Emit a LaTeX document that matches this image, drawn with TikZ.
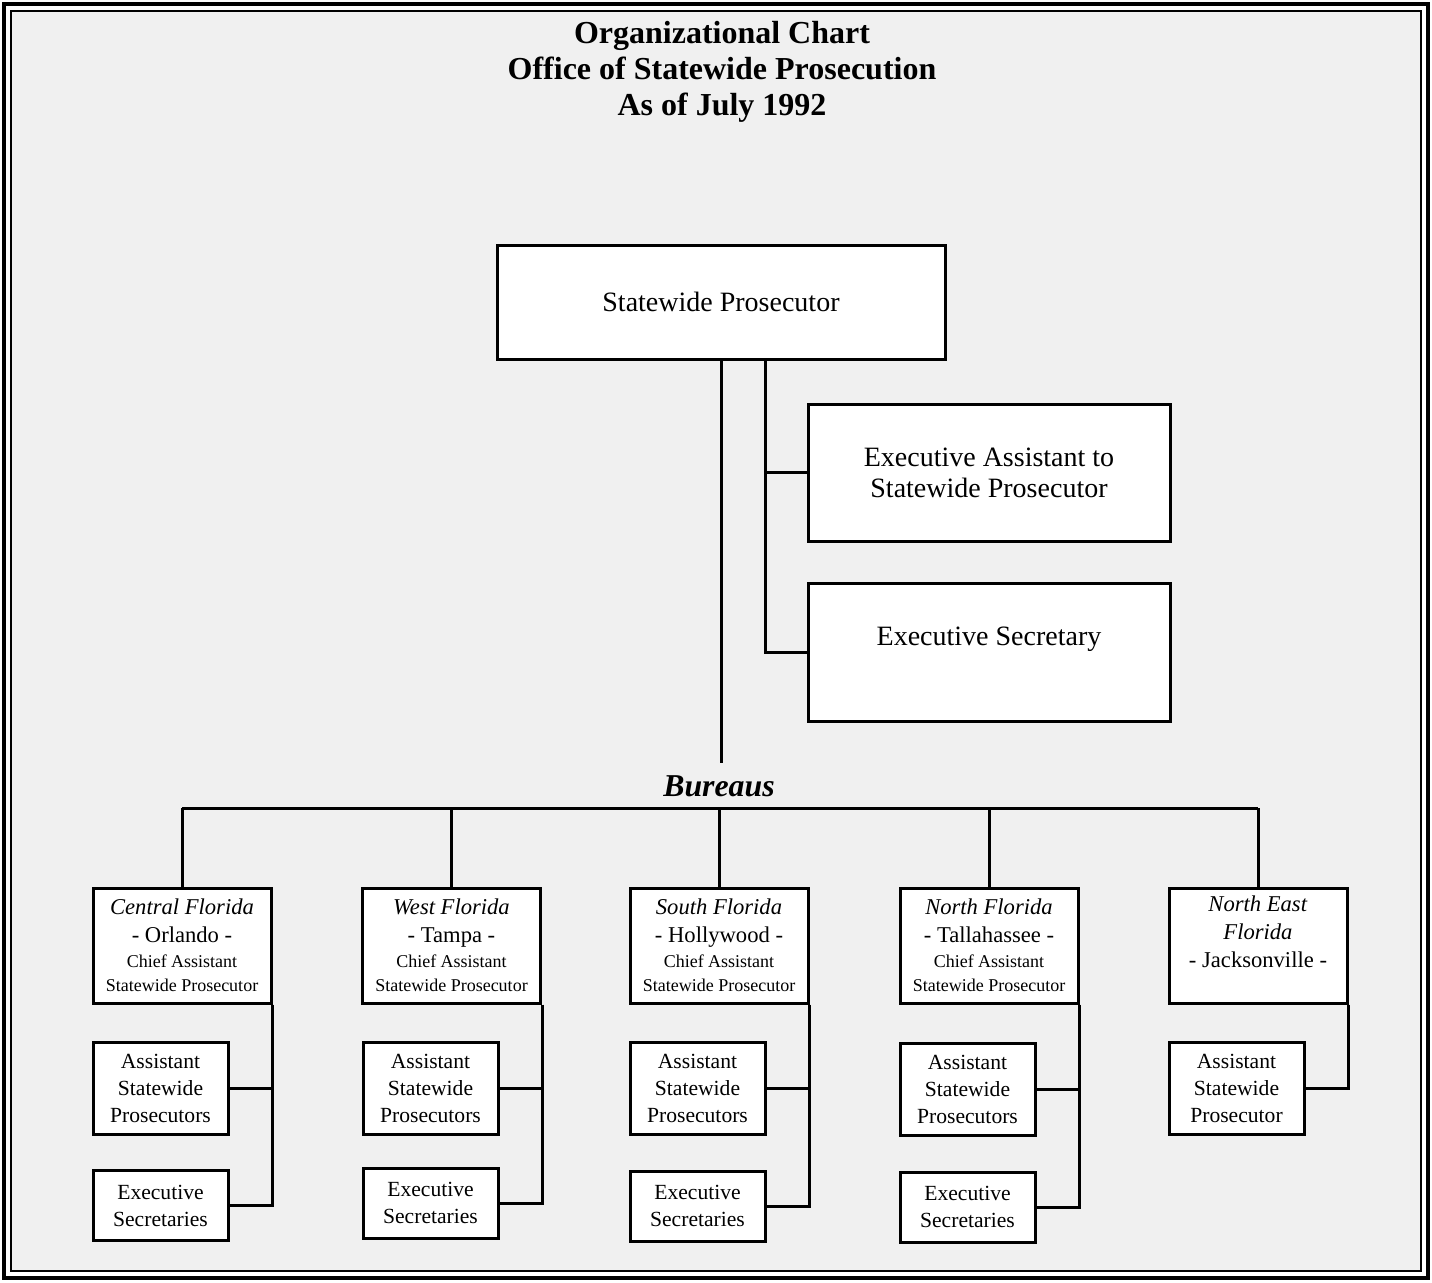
\documentclass[tikz,border=0pt]{standalone}
\usepackage{fontspec}
\setmainfont{Liberation Serif}
\newcommand{\chieftxt}{{\fontsize{9}{11}\selectfont Chief Assistant}\\[-2pt]{\fontsize{9}{11}\selectfont Statewide Prosecutor}}
\tikzset{
  box/.style={draw, line width=1.5pt, fill=white, align=center, inner sep=0pt},
  topbox/.style={box, font=\fontsize{14}{15.5}\selectfont},
  bureau/.style={box, minimum width=89pt, minimum height=57.5pt, font=\fontsize{11.3}{14}\selectfont},
  staff/.style={box, minimum width=67.5pt, minimum height=46pt, font=\fontsize{10.8}{13.5}\selectfont},
  secs/.style={box, minimum width=67.5pt, minimum height=35pt, font=\fontsize{10.8}{13.5}\selectfont},
  link/.style={line width=1.5pt}
}
\begin{document}
\begin{tikzpicture}[x=0.5pt, y=-0.5pt, line join=miter]
  \useasboundingbox (0,0) rectangle (1432,1282);
  % frame and shaded ground
  \draw[line width=2pt] (4,4) rectangle (1428,1278);
  \draw[line width=1pt, fill=gray!12] (11,11) rectangle (1421,1271);

  \node[font=\bfseries\fontsize{16}{18}\selectfont, align=center] (title) at (722,72)
    {Organizational Chart\\Office of Statewide Prosecution\\As of July 1992};

  % top of the office
  \node[topbox, minimum width=224pt, minimum height=57pt] (sp) at (721,302) {Statewide Prosecutor};
  \node[topbox, minimum width=181pt, minimum height=68.5pt] (ea) at (989,472.5)
    {Executive Assistant to\\Statewide Prosecutor};
  \node[topbox, minimum width=181pt, minimum height=69pt] (es) at (989,652)
    {Executive Secretary\\~};
  \coordinate (side) at (765,0);
  \draw[link] (sp.south -| side) |- (es.west);
  \draw[link] (ea.west) -- (ea.west -| side);

  % bureaus
  \coordinate (trunk) at (721,763);
  \draw[link] (sp.south) -- (trunk);
  \node[font=\bfseries\itshape\fontsize{15.9}{18}\selectfont] (bur) at (719,786) {Bureaus};

  \node[bureau] (b1) at (182,945.5) {\textit{Central Florida}\\- Orlando -\\[-1.5pt]\chieftxt};
  \node[bureau] (b2) at (451.5,945.5) {\textit{West Florida}\\- Tampa -\\[-1.5pt]\chieftxt};
  \node[bureau] (b3) at (719,945.5) {\textit{South Florida}\\- Hollywood -\\[-1.5pt]\chieftxt};
  \node[bureau] (b4) at (989,945.5) {\textit{North Florida}\\- Tallahassee -\\[-1.5pt]\chieftxt};
  \node[bureau] (b5) at (1258,945.5) {\textit{North East}\\\textit{Florida}\\- Jacksonville -\\~};

  \coordinate (bus) at (0,808);
  \draw[link] (b1.north |- bus) -- (b5.north |- bus);
  \foreach \b in {b1,b2,b3,b4,b5}
    \draw[link] (\b.north) -- (\b.north |- bus);

  % staff of each bureau
  \node[staff] (a1) at (160.5,1088) {Assistant\\Statewide\\Prosecutors};
  \node[staff] (a2) at (430.5,1088) {Assistant\\Statewide\\Prosecutors};
  \node[staff] (a3) at (697.5,1088.5) {Assistant\\Statewide\\Prosecutors};
  \node[staff] (a4) at (967.5,1089) {Assistant\\Statewide\\Prosecutors};
  \node[staff] (a5) at (1236.5,1088.5) {Assistant\\Statewide\\Prosecutor};

  \node[secs] (s1) at (160.5,1205.5) {Executive\\Secretaries};
  \node[secs] (s2) at (430.5,1203) {Executive\\Secretaries};
  \node[secs] (s3) at (697.5,1206) {Executive\\Secretaries};
  \node[secs] (s4) at (967.5,1207) {Executive\\Secretaries};

  \foreach \i in {1,2,3,4} {
    \draw[link] (b\i.south east) |- (s\i.east);
    \draw[link] (a\i.east) -- (a\i.east -| b\i.south east);
  }
  \draw[link] (b5.south east) |- (a5.east);
\end{tikzpicture}
\end{document}
